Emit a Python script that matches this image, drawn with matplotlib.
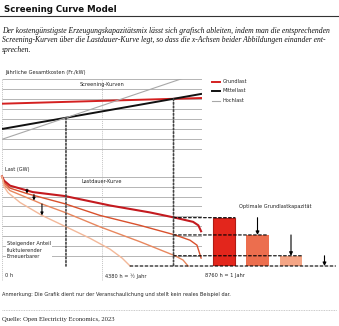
import numpy as np
import matplotlib
matplotlib.use("Agg")
import matplotlib.pyplot as plt
from matplotlib.patches import ConnectionPatch
from matplotlib.lines import Line2D

# ---------------- data ----------------
HOURS_YEAR = 8760

# screening curves: annual cost at 0 h and at 8760 h of operation
tech_names = ["Grundlast", "Mittellast", "Hochlast"]
cost_at_0h = [5.53, 3.00, 1.97]
cost_at_8760h = [6.10, 6.52, 8.71]

# load duration curves (GW) for increasing renewable shares
ldc_hours = [
    [0, 90, 350, 1350, 2760, 4730, 6480, 7580, 8370, 8600, 8720],
    [0, 90, 350, 1095, 2760, 4290, 6040, 7580, 8235, 8540, 8720],
    [0, 90, 350, 1400, 1750, 2760, 4290, 6040, 7580, 7930, 8150],
    [0, 90, 263, 790, 1750, 2760, 3850, 4730, 5260, 5610],
]
ldc_load = [
    [9.03, 8.60, 8.10, 7.45, 7.05, 6.10, 5.40, 4.87, 4.45, 4.10, 3.50],
    [9.03, 8.40, 7.85, 7.30, 6.27, 5.10, 4.10, 3.13, 2.60, 2.10, 0.80],
    [9.03, 8.20, 7.60, 6.60, 6.25, 5.40, 3.95, 2.45, 1.03, 0.60, 0.00],
    [9.03, 8.00, 7.40, 6.40, 5.10, 4.00, 2.80, 1.70, 0.80, 0.00],
]

# optimal base-load capacity for each load duration curve (GW)
base_capacity = [4.87, 3.13, 1.03, 0.0]

# shift arrows between the load duration curves
shift_hours = [1095, 1400, 1750]
shift_from = [7.75, 7.20, 6.25]
shift_to = [7.30, 6.60, 5.10]

x_tick_hours = [0, 4380, 8760]
x_tick_labels = ["0 h", "4380 h = ½ Jahr", "8760 h = 1 Jahr"]

# ---------------- style ----------------
tech_colors = ["#d42020", "#111111", "#a8a8a8"]
tech_widths = [1.4, 1.4, 0.8]
ldc_colors = ["#c41a1f", "#d9502c", "#e8875e", "#f3b899"]
ldc_widths = [1.5, 1.0, 1.0, 1.0]
bar_colors = ["#e3261c", "#ec6e4e", "#f4a585", "#f3b899"]
grid_col = "#b4b4b4"
small = ["Liberation Sans Narrow", "DejaVu Sans"]
serif = ["Liberation Serif", "DejaVu Serif"]
fs = 3.6

W, H = 339, 326
fig = plt.figure(figsize=(W / 100, H / 100), dpi=100)


def fx(px):
    return px / W


def fy(py):
    return 1 - py / H


def clean(ax):
    for s in ax.spines.values():
        s.set_visible(False)
    ax.set_xticks([])
    ax.set_yticks([])
    ax.set_facecolor("none")


# background axes carrying the light vertical hour guides and hour labels
ax_bg = fig.add_axes([fx(2), fy(281), 200 / W, (281 - 79) / H])
clean(ax_bg)
ax_bg.set_xlim(0, HOURS_YEAR)
ax_bg.set_ylim(0, 1)
for h, lab in zip(x_tick_hours, x_tick_labels):
    ax_bg.axvline(h, color="#c4c4c4", lw=0.7, ls=(0, (1, 1)), zorder=0)
    ax_bg.text(h + 110, 0.025, lab, fontsize=fs, family=small,
               ha="left", va="center", color="#222")

# ---- top panel: screening curves ----
ax_top = fig.add_axes([fx(2), fy(159), 200 / W, 80 / H])
clean(ax_top)
ax_top.set_xlim(0, HOURS_YEAR)
ax_top.set_ylim(0, 8)
ax_top.hlines(np.arange(0, 9), 0, HOURS_YEAR, color=grid_col, lw=0.7, zorder=1)
hh = np.array([0, HOURS_YEAR])
for c0, c1, col, lw in zip(cost_at_0h, cost_at_8760h, tech_colors, tech_widths):
    ax_top.plot(hh, [c0, c1], color=col, lw=lw, zorder=3, solid_capstyle="butt")
ax_top.text(4380, 7.47, "Screening-Kurven", fontsize=fs, family=small,
            ha="center", va="center", color="#222")

# break-even hours between neighbouring technologies
fix = np.array(cost_at_0h)
var = (np.array(cost_at_8760h) - fix) / HOURS_YEAR
h_base_mid = (fix[0] - fix[1]) / (var[1] - var[0])
h_mid_peak = (fix[1] - fix[2]) / (var[2] - var[1])

# ---- bottom panel: load duration curves ----
ymax = 9.3
ax_bot = fig.add_axes([fx(2), fy(266), 200 / W, 9.92 * ymax / H])
clean(ax_bot)
ax_bot.set_xlim(0, HOURS_YEAR)
ax_bot.set_ylim(0, ymax)
ax_bot.hlines(np.arange(1, 10), 0, HOURS_YEAR, color=grid_col, lw=0.7, zorder=1)
for hrs, ld, col, lw in zip(ldc_hours, ldc_load, ldc_colors, ldc_widths):
    ax_bot.plot(hrs, ld, color=col, lw=lw, zorder=3, clip_on=False)
ax_bot.text(4380, 8.5, "Lastdauer-Kurve", fontsize=fs, family=small,
            ha="center", va="center", color="#222")
ax_bot.text(210, 2.55, "Steigender Anteil\nfluktuierender\nErneuerbarer",
            fontsize=fs, family=small, ha="left", va="top", color="#222",
            linespacing=1.45,
            bbox=dict(facecolor="white", edgecolor="none", pad=0.6), zorder=4)
for h, a, b in zip(shift_hours, shift_from, shift_to):
    ax_bot.annotate("", xy=(h, b), xytext=(h, a),
                    arrowprops=dict(arrowstyle="-|>", color="black", lw=0.8,
                                    mutation_scale=4, shrinkA=0, shrinkB=0),
                    zorder=5)

# ---- bars: optimal base-load capacity ----
ax_bar = fig.add_axes([fx(202), fy(266), 137 / W, 9.92 * ymax / H], sharey=ax_bot)
clean(ax_bar)
ax_bar.set_xlim(-0.657, 3.433)
xb = np.arange(len(base_capacity))
bw = 0.657
bars = ax_bar.bar(xb, base_capacity, width=bw, color=bar_colors, zorder=3)
bars[0].set_edgecolor("#b01c16")
bars[0].set_linewidth(0.8)
ax_bar.text(1.52, 5.98, "Optimale Grundlastkapazität", fontsize=fs,
            family=small, ha="center", va="center", color="#222")
for i in range(1, len(base_capacity)):
    ax_bar.annotate("", xy=(xb[i], base_capacity[i]),
                    xytext=(xb[i], base_capacity[i - 1]),
                    arrowprops=dict(arrowstyle="-|>", color="black", lw=0.8,
                                    mutation_scale=5, shrinkA=0, shrinkB=0),
                    zorder=5)

# dashed capacity lines from the load duration curves to the bars
for i, cap in enumerate(base_capacity):
    start_h = h_base_mid if cap > 0 else ldc_hours[i][-1]
    end_x = xb[i] + bw / 2
    con = ConnectionPatch(xyA=(start_h, cap), coordsA=ax_bot.transData,
                          xyB=(end_x, cap), coordsB=ax_bar.transData,
                          color="black", lw=0.8, ls=(0, (2.5, 2)), zorder=2)
    fig.add_artist(con)

# dotted break-even verticals through both panels
for h in (h_mid_peak, h_base_mid):
    c = fix[1] + var[1] * h
    con = ConnectionPatch(xyA=(h, c), coordsA=ax_top.transData,
                          xyB=(h, 0), coordsB=ax_bot.transData,
                          color="#444444", lw=1.2, ls=(0, (1, 1.2)), zorder=2)
    fig.add_artist(con)

# legend
for i, (name, col, lw) in enumerate(zip(tech_names, tech_colors, tech_widths)):
    y = fy(81.5 + i * 9.5)
    fig.add_artist(Line2D([fx(212), fx(220)], [y, y], color=col, lw=lw))
    fig.text(fx(223), y, name, fontsize=fs, family=small, ha="left",
             va="center", color="#222")

# axis captions
fig.text(fx(5), fy(72.7), "Jährliche Gesamtkosten (Fr./kW)", fontsize=fs,
         family=small, ha="left", va="center", color="#222")
fig.text(fx(5), fy(169), "Last (GW)", fontsize=fs, family=small,
         ha="left", va="center", color="#222")

# header
fig.text(fx(4), fy(9), "Screening Curve Model", fontsize=6.2, weight="bold",
         family=small, ha="left", va="center", color="#111")
fig.add_artist(Line2D([0, 1], [fy(15.5), fy(15.5)], color="#333", lw=0.8))
para = ("Der kostengünstigste Erzeugungskapazitätsmix lässt sich grafisch ableiten, indem man die entsprechenden\n"
        "Screening-Kurven über die Lastdauer-Kurve legt, so dass die x-Achsen beider Abbildungen einander ent-\n"
        "sprechen.")
fig.text(fx(2), fy(27), para, fontsize=5.5, style="italic",
         family=serif, ha="left", va="top", linespacing=1.25, color="#111")

# footer
fig.text(fx(2), fy(294.3), "Anmerkung: Die Grafik dient nur der Veranschaulichung und stellt kein reales Beispiel dar.",
         fontsize=fs, family=small, ha="left", va="center", color="#222")
fig.add_artist(Line2D([fx(2), fx(337)], [fy(309.5), fy(309.5)], color="#b8b8b8",
                      lw=0.6, ls=(0, (1, 1))))
fig.text(fx(2), fy(319.3), "Quelle: Open Electricity Economics, 2023", fontsize=4.8,
         family=serif, ha="left", va="center", color="#222")

fig.savefig("out.png", dpi=100)
